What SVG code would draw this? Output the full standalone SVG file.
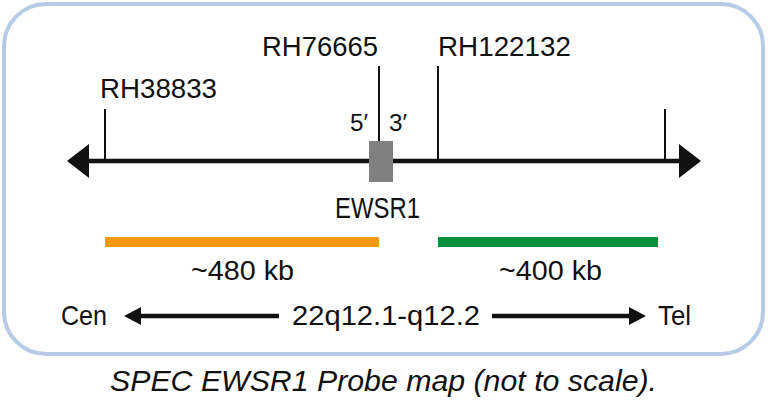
<svg xmlns="http://www.w3.org/2000/svg" width="768" height="402" viewBox="0 0 768 402">
<defs>
<style>
.t{font-family:"Liberation Sans",Arial,sans-serif;fill:#111;}
.tick{stroke:#111;stroke-width:2;}
.ax{stroke:#111;stroke-width:4.5;}
.arr{stroke:#111;stroke-width:4.5;}
.head{fill:#111;}
</style>
</defs>
<rect x="4" y="4" width="759" height="350" rx="42" ry="42" fill="#fff" stroke="#b8cbe6" stroke-width="4"/>
<g id="connectors">
<line class="ax" x1="84" y1="161" x2="684" y2="161"/>
<polygon class="head" points="67,161 89,144 89,178"/>
<polygon class="head" points="701,161 679,144 679,178"/>
<line class="tick" x1="105" y1="109" x2="105" y2="161"/>
<line class="tick" x1="379" y1="66" x2="379" y2="141"/>
<line class="tick" x1="438" y1="66" x2="438" y2="161"/>
<line class="tick" x1="665" y1="109" x2="665" y2="161"/>
<line class="arr" x1="279" y1="316" x2="138" y2="316"/>
<polygon class="head" points="124,316 141,307 141,325"/>
<line class="arr" x1="492" y1="316" x2="632" y2="316"/>
<polygon class="head" points="646,316 629,307 629,325"/>
</g>
<g id="gene-EWSR1">
<rect x="369" y="141" width="24" height="41" fill="#808080"/>
<text class="t" x="335" y="218" font-size="29" textLength="85" lengthAdjust="spacingAndGlyphs">EWSR1</text>
<text class="t" x="350" y="131" font-size="24" textLength="18" lengthAdjust="spacingAndGlyphs">5′</text>
<text class="t" x="389" y="131" font-size="24" textLength="18" lengthAdjust="spacingAndGlyphs">3′</text>
</g>
<g id="marker-RH38833"><text class="t" x="100" y="98" font-size="28" textLength="117" lengthAdjust="spacingAndGlyphs">RH38833</text></g>
<g id="marker-RH76665"><text class="t" x="262" y="56" font-size="28" textLength="116" lengthAdjust="spacingAndGlyphs">RH76665</text></g>
<g id="marker-RH122132"><text class="t" x="438" y="56" font-size="28" textLength="133" lengthAdjust="spacingAndGlyphs">RH122132</text></g>
<g id="probe-orange">
<rect x="105" y="237" width="274" height="10" fill="#f39a12"/>
<text class="t" x="191" y="280" font-size="27" textLength="103" lengthAdjust="spacingAndGlyphs">~480 kb</text>
</g>
<g id="probe-green">
<rect x="438" y="237" width="220" height="10" fill="#05923c"/>
<text class="t" x="499" y="280" font-size="27" textLength="103" lengthAdjust="spacingAndGlyphs">~400 kb</text>
</g>
<g id="orientation">
<text class="t" x="61" y="325" font-size="28" textLength="46" lengthAdjust="spacingAndGlyphs">Cen</text>
<text class="t" x="292" y="325" font-size="28" textLength="188" lengthAdjust="spacingAndGlyphs">22q12.1-q12.2</text>
<text class="t" x="658" y="325" font-size="28" textLength="33" lengthAdjust="spacingAndGlyphs">Tel</text>
</g>
<text class="t" x="110" y="391" font-size="29" font-style="italic" textLength="547" lengthAdjust="spacingAndGlyphs">SPEC EWSR1 Probe map (not to scale).</text>
</svg>
